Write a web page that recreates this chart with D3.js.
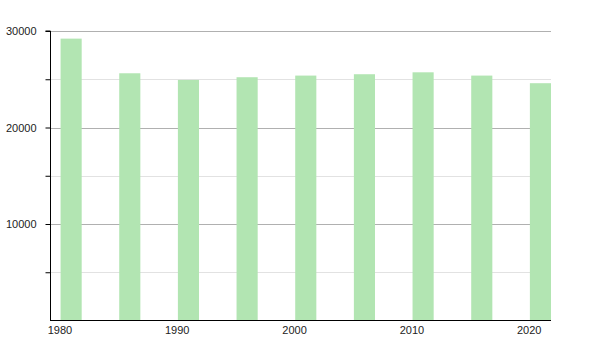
<!DOCTYPE html>
<html lang="en">
<head>
  <meta charset="UTF-8" />
  <title>Population</title>
  <script src="https://d3js.org/d3.v7.min.js"></script>
  <style>
    body { margin: 0; background: #fff; }
    text { font-family: "Liberation Sans", Arial, sans-serif; font-size: 11px; fill: #222; }
  </style>
</head>
<body>
  <svg id="chart" width="600" height="350"></svg>

  <script>
    // census years and population
    const years = [1981, 1986, 1991, 1996, 2001, 2006, 2011, 2016, 2021];
    const population = [29210, 25620, 24930, 25210, 25380, 25520, 25720, 25380, 24590];
    const xTicks = [1980, 1990, 2000, 2010, 2020];
    const yTicks = [10000, 20000, 30000];
    const yMinorTicks = [5000, 15000, 25000];

    const plotLeft = 50, plotRight = 551, plotTop = 31, plotBottom = 320.5;

    const svg = d3.select("#chart");

    const x = d3.scaleLinear().domain([1979.2, 2021.9]).range([plotLeft, plotRight]);
    const y = d3.scaleLinear().domain([0, 30000]).range([plotBottom, plotTop]);

    // minor grid
    svg.append("g")
      .selectAll("line")
      .data(yMinorTicks)
      .join("line")
        .attr("x1", plotLeft)
        .attr("x2", plotRight)
        .attr("y1", d => Math.round(y(d)) + 0.5)
        .attr("y2", d => Math.round(y(d)) + 0.5)
        .attr("stroke", "#e2e2e2");

    // major grid
    svg.append("g")
      .selectAll("line")
      .data(yTicks)
      .join("line")
        .attr("x1", plotLeft)
        .attr("x2", plotRight)
        .attr("y1", d => Math.round(y(d)) + 0.5)
        .attr("y2", d => Math.round(y(d)) + 0.5)
        .attr("stroke", "#b0b0b0");

    // bars
    const halfWidth = 0.9;
    svg.append("g")
      .selectAll("rect")
      .data(years)
      .join("rect")
        .attr("x", d => x(d - halfWidth))
        .attr("width", d => x(d + halfWidth) - x(d - halfWidth))
        .attr("y", (d, i) => y(population[i]))
        .attr("height", (d, i) => plotBottom - y(population[i]))
        .attr("fill", "#b2e5b2");

    // y axis
    const yAxis = d3.axisLeft(y)
      .tickValues(yTicks.concat(yMinorTicks))
      .tickSize(5)
      .tickPadding(9)
      .tickFormat(d => yTicks.includes(d) ? d : "");
    const gy = svg.append("g")
      .attr("transform", `translate(${plotLeft + 0.5},0)`)
      .call(yAxis);
    gy.select(".domain").attr("stroke", "#000").attr("d", `M-5,${plotTop}H0V${plotBottom}`);
    gy.selectAll(".tick line").attr("stroke", "#000");
    gy.selectAll(".tick text").attr("fill", "#222").attr("font-family", null).attr("font-size", null);

    // x axis
    const xAxis = d3.axisBottom(x)
      .tickValues(xTicks)
      .tickSize(0)
      .tickPadding(6)
      .tickFormat(d3.format("d"));
    const gx = svg.append("g")
      .attr("transform", `translate(0,${Math.round(plotBottom) - 0.5})`)
      .call(xAxis);
    gx.select(".domain").attr("stroke", "#000").attr("d", `M${plotLeft},0H${plotRight}`);
    gx.selectAll(".tick text").attr("fill", "#222").attr("font-family", null).attr("font-size", null);
  </script>
</body>
</html>
